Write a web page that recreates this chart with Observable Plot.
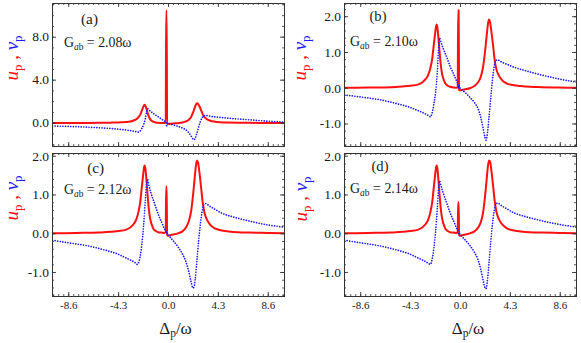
<!DOCTYPE html>
<html><head><meta charset="utf-8">
<script src="https://cdn.jsdelivr.net/npm/d3@7"></script>
<script src="https://cdn.jsdelivr.net/npm/@observablehq/plot@0.6"></script>
<style>
body{margin:0;background:#fff;}
#wrap{position:relative;width:581px;height:343px;font-family:'Liberation Serif',serif;overflow:hidden;background:#fff;}
.panel{position:absolute;}
#overlay{position:absolute;left:0;top:0;pointer-events:none;}
</style></head><body><div id="wrap"></div>
<script>
// ---- data ----
const panelLabels = ["(a)", "(b)", "(c)", "(d)"];
const gValues = ["2.08", "2.10", "2.12", "2.14"];
const xTicks = [-8.6, -4.3, 0, 4.3, 8.6];
const yTicksA = [0, 4, 8];
const yTicksBCD = [-1, 0, 1, 2];

// detuning grid for u_p (red) curves
const xU = [-10, -8, -6, -5, -4.3, -3.7, -3.3, -3.0, -2.8, -2.6, -2.45, -2.3, -2.2, -2.1, -2.05, -2.0, -1.9, -1.8, -1.7, -1.6, -1.45, -1.3, -1.1, -0.9, -0.6, -0.35, -0.24, -0.2, -0.16, -0.12, -0.05, 0.1, 0.4, 0.8, 1.2, 1.5, 1.75, 1.95, 2.1, 2.25, 2.35, 2.45, 2.55, 2.65, 2.8, 2.95, 3.1, 3.3, 3.6, 4.0, 4.5, 5.2, 6, 7, 8.5, 10];
const uA = [0.01, 0.02, 0.03, 0.05, 0.07, 0.10, 0.15, 0.25, 0.35, 0.54, 0.77, 1.17, 1.44, 1.67, 1.71, 1.65, 1.34, 0.96, 0.63, 0.40, 0.23, 0.12, 0.07, 0.04, 0.02, 0.02, 0.05, 10.48, 10.48, -0.10, -0.08, -0.06, -0.03, 0.00, 0.06, 0.16, 0.32, 0.58, 0.95, 1.40, 1.69, 1.86, 1.80, 1.60, 1.24, 0.84, 0.56, 0.38, 0.23, 0.14, 0.09, 0.06, 0.04, 0.03, 0.02, 0.01];
const uB = [0.01, 0.02, 0.03, 0.05, 0.07, 0.10, 0.16, 0.26, 0.36, 0.56, 0.80, 1.22, 1.50, 1.74, 1.78, 1.72, 1.40, 1.00, 0.66, 0.42, 0.24, 0.13, 0.07, 0.04, 0.02, 0.01, 0.03, 2.18, 2.18, -0.05, -0.06, -0.05, -0.03, 0.00, 0.06, 0.16, 0.32, 0.60, 0.98, 1.45, 1.75, 1.92, 1.85, 1.62, 1.22, 0.78, 0.52, 0.36, 0.22, 0.13, 0.09, 0.06, 0.04, 0.03, 0.02, 0.01];
const uC = [0.01, 0.02, 0.03, 0.05, 0.07, 0.10, 0.16, 0.25, 0.35, 0.55, 0.79, 1.20, 1.48, 1.72, 1.76, 1.70, 1.38, 0.99, 0.65, 0.42, 0.24, 0.13, 0.07, 0.04, 0.03, 0.02, 0.04, 1.22, 1.22, -0.04, -0.05, -0.04, -0.02, 0.01, 0.06, 0.16, 0.32, 0.58, 0.95, 1.42, 1.72, 1.89, 1.84, 1.62, 1.22, 0.80, 0.54, 0.37, 0.23, 0.14, 0.09, 0.06, 0.04, 0.03, 0.02, 0.01];
const uD = [0.01, 0.02, 0.03, 0.05, 0.07, 0.10, 0.16, 0.25, 0.35, 0.55, 0.79, 1.20, 1.48, 1.72, 1.76, 1.70, 1.38, 0.99, 0.65, 0.42, 0.24, 0.13, 0.07, 0.04, 0.03, 0.02, 0.04, 0.81, 0.81, -0.04, -0.05, -0.04, -0.02, 0.01, 0.06, 0.15, 0.30, 0.55, 0.92, 1.38, 1.70, 1.89, 1.86, 1.66, 1.27, 0.84, 0.56, 0.38, 0.24, 0.14, 0.09, 0.06, 0.04, 0.03, 0.02, 0.01];

// detuning grid for v_p (blue) curves
const xV = [-10, -8.5, -7, -5.5, -4.5, -3.7, -3.2, -2.9, -2.7, -2.6, -2.45, -2.3, -2.15, -2.0, -1.9, -1.8, -1.7, -1.5, -1.2, -0.9, -0.6, -0.3, -0.2, -0.17, -0.14, 0.0, 0.4, 0.8, 1.2, 1.5, 1.75, 1.95, 2.1, 2.2, 2.3, 2.45, 2.6, 2.75, 2.9, 3.05, 3.2, 3.5, 4.0, 4.6, 5.5, 6.5, 7.5, 8.5, 10];
const vA = [-0.27, -0.31, -0.37, -0.46, -0.54, -0.63, -0.71, -0.77, -0.82, -0.84, -0.74, -0.48, -0.14, 0.42, 1.00, 1.34, 1.24, 1.06, 0.82, 0.60, 0.38, 0.16, 0.10, -0.35, 0.00, -0.04, -0.16, -0.29, -0.45, -0.62, -0.89, -1.20, -1.45, -1.55, -1.40, -0.92, -0.36, 0.16, 0.52, 0.68, 0.71, 0.66, 0.58, 0.52, 0.43, 0.35, 0.27, 0.19, 0.10];
const vB = [-0.19, -0.25, -0.32, -0.43, -0.52, -0.62, -0.69, -0.74, -0.78, -0.80, -0.70, -0.45, -0.12, 0.45, 1.05, 1.40, 1.30, 1.12, 0.88, 0.62, 0.40, 0.18, 0.10, 0.00, 0.06, -0.01, -0.12, -0.25, -0.40, -0.56, -0.82, -1.12, -1.36, -1.45, -1.32, -0.84, -0.30, 0.22, 0.60, 0.78, 0.79, 0.74, 0.67, 0.59, 0.50, 0.41, 0.33, 0.26, 0.17];
const vC = [-0.17, -0.24, -0.31, -0.42, -0.51, -0.62, -0.69, -0.74, -0.79, -0.76, -0.60, -0.28, 0.20, 0.85, 1.25, 1.39, 1.26, 1.04, 0.78, 0.52, 0.30, 0.10, 0.04, 0.00, 0.01, -0.04, -0.18, -0.33, -0.52, -0.72, -0.98, -1.24, -1.40, -1.38, -1.18, -0.70, -0.18, 0.26, 0.58, 0.76, 0.78, 0.72, 0.63, 0.53, 0.44, 0.36, 0.29, 0.23, 0.17];
const vD = [-0.17, -0.24, -0.31, -0.42, -0.51, -0.62, -0.69, -0.74, -0.78, -0.79, -0.66, -0.38, 0.05, 0.65, 1.15, 1.36, 1.26, 1.06, 0.80, 0.55, 0.33, 0.12, 0.05, 0.00, 0.02, -0.03, -0.16, -0.30, -0.48, -0.66, -0.92, -1.20, -1.38, -1.42, -1.26, -0.78, -0.24, 0.24, 0.58, 0.77, 0.79, 0.73, 0.64, 0.54, 0.45, 0.37, 0.30, 0.24, 0.17];

// ---- layout ----
const panels = [
  {i: 0, left: 0,   top: 0,   w: 290, h: 150, ml: 52, mr: 6, mt: 3, mb: 4,  y: [-2.17, 11.13], major: yTicksA,   minorStep: 1,   u: uA, v: vA, xAxis: false},
  {i: 1, left: 290, top: 0,   w: 291, h: 150, ml: 54, mr: 5, mt: 3, mb: 4,  y: [-1.63, 2.37],  major: yTicksBCD, minorStep: 0.2, u: uB, v: vB, xAxis: false},
  {i: 2, left: 0,   top: 150, w: 290, h: 193, ml: 52, mr: 6, mt: 3, mb: 47, y: [-1.62, 2.07],  major: yTicksBCD, minorStep: 0.2, u: uC, v: vC, xAxis: true},
  {i: 3, left: 290, top: 150, w: 291, h: 193, ml: 54, mr: 5, mt: 3, mb: 47, y: [-1.62, 2.07],  major: yTicksBCD, minorStep: 0.2, u: uD, v: vD, xAxis: true}
];
// label anchors measured on the reference: [x, baselineY, text length (null = natural)]
const labelPos = [
  {pl: [89.5, 23.5, 17], g: [64, 46.7, 67.5],   yl: [18, 58, null]},
  {pl: [378, 20.7, 17],  g: [350, 46, 68],      yl: [306, 58, null]},
  {pl: [95.7, 172.7, 17], g: [64, 194, 67.5],   yl: [18, 198, null]},
  {pl: [380, 171.3, 17], g: [350, 192.7, 68],   yl: [307, 199, null]}
];
const xLabelPos = [[175.5, 334, 32.5], [468, 334, 32.5]];

const FONT = "'Liberation Serif',serif";
const RED = "#ff1010", BLUE = "#1a1aff", FRAME = "#333", INK = "#1a1a1a";
const xMinor = d3.range(-23, 24).map(k => +(k * 0.43).toFixed(2)).filter(x => x >= -10 && x <= 10);
const wrap = document.getElementById("wrap");

for (const p of panels) {
  const fw = p.w - p.ml - p.mr, fh = p.h - p.mt - p.mb;
  const yMinor = d3.range(Math.ceil(p.y[0] / p.minorStep), Math.floor(p.y[1] / p.minorStep) + 1).map(k => +(k * p.minorStep).toFixed(2));
  const uData = xU.map((x, j) => ({x, y: p.u[j]}));
  const vData = xV.map((x, j) => ({x, y: p.v[j]}));
  const marks = [
    Plot.line(uData, {x: "x", y: "y", stroke: RED, strokeWidth: 2, curve: "monotone-x", clip: true}),
    Plot.line(vData, {x: "x", y: "y", stroke: BLUE, strokeWidth: 1.7, strokeDasharray: "0.01 2.6", strokeLinecap: "round", curve: "monotone-x", clip: true}),
    Plot.tickX(xMinor, {x: d => d, insetTop: fh - 2, stroke: FRAME, strokeWidth: 0.8}),
    Plot.tickX(xMinor, {x: d => d, insetBottom: fh - 2, stroke: FRAME, strokeWidth: 0.8}),
    Plot.tickX(xTicks, {x: d => d, insetTop: fh - 4, stroke: FRAME, strokeWidth: 0.9}),
    Plot.tickX(xTicks, {x: d => d, insetBottom: fh - 4, stroke: FRAME, strokeWidth: 0.9}),
    Plot.tickY(yMinor, {y: d => d, insetRight: fw - 2, stroke: FRAME, strokeWidth: 0.8}),
    Plot.tickY(yMinor, {y: d => d, insetLeft: fw - 2, stroke: FRAME, strokeWidth: 0.8}),
    Plot.tickY(p.major, {y: d => d, insetRight: fw - 4, stroke: FRAME, strokeWidth: 0.9}),
    Plot.tickY(p.major, {y: d => d, insetLeft: fw - 4, stroke: FRAME, strokeWidth: 0.9}),
    Plot.frame({stroke: FRAME, strokeWidth: 1}),
    Plot.axisY(p.major, {tickSize: 0, tickPadding: 3.5, tickFormat: d => d.toFixed(1), fontSize: 13.5, fontFamily: FONT, fill: INK, label: null})
  ];
  if (p.xAxis) marks.push(Plot.axisX(xTicks, {tickSize: 0, tickPadding: 5, tickFormat: d => d.toFixed(1), fontSize: 11, fontFamily: FONT, fill: INK, label: null}));
  const chart = Plot.plot({
    width: p.w, height: p.h,
    marginLeft: p.ml, marginRight: p.mr, marginTop: p.mt, marginBottom: p.mb,
    x: {domain: [-10, 10], axis: p.xAxis ? undefined : null},
    y: {domain: p.y},
    style: {fontFamily: FONT, background: "transparent", overflow: "visible"},
    marks
  });
  chart.classList.add("panel");
  chart.style.left = p.left + "px";
  chart.style.top = p.top + "px";
  wrap.appendChild(chart);
}

// ---- text labels as SVG text in an overlay ----
const overlay = d3.select(wrap).append("svg").attr("id", "overlay")
  .attr("width", 581).attr("height", 343)
  .attr("font-family", FONT);
const fits = [];
function label(x, y, anchor, rotate, parts, fs, len) {
  const t = overlay.append("text")
    .attr("transform", `translate(${x},${y})` + (rotate ? " rotate(-90)" : ""))
    .attr("text-anchor", anchor).attr("font-size", fs).attr("fill", INK);
  for (const part of parts) {
    const s = t.append("tspan").text(part.t);
    if (part.fill) s.attr("fill", part.fill);
    if (part.it) s.attr("font-style", "italic");
    if (part.sub) s.attr("font-size", "68%").attr("baseline-shift", "-0.3em");
    else s.attr("baseline-shift", "0");
  }
  if (len) fits.push({t, fs, len});
}
function fitAll() {
  for (const f of fits) {
    f.t.attr("font-size", f.fs);
    const L = f.t.node().getComputedTextLength();
    if (L > 0) f.t.attr("font-size", (f.fs * f.len / L).toFixed(2));
  }
}
panels.forEach(p => {
  const lp = labelPos[p.i];
  label(lp.pl[0], lp.pl[1], "middle", false, [{t: panelLabels[p.i]}], 15, lp.pl[2]);
  label(lp.g[0], lp.g[1], "start", false, [{t: "G"}, {t: "a", it: true, sub: true}, {t: "b", sub: true}, {t: " = " + gValues[p.i] + "ω"}], 15, lp.g[2]);
  label(lp.yl[0], lp.yl[1], "middle", true, [
    {t: "u", it: true, fill: RED}, {t: "p", sub: true, fill: RED}, {t: " , ", fill: RED},
    {t: "v", it: true, fill: BLUE}, {t: "p", sub: true, fill: BLUE}], 19, lp.yl[2]);
});
for (const t of xLabelPos) label(t[0], t[1], "middle", false, [{t: "Δ"}, {t: "p", sub: true}, {t: "/ω"}], 16, t[2]);
fitAll();
if (document.fonts && document.fonts.ready) document.fonts.ready.then(fitAll);
</script></body></html>
